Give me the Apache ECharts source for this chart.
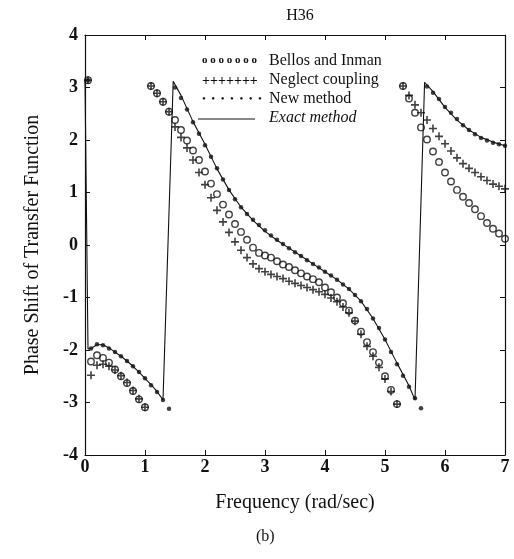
<!DOCTYPE html>
<html>
<head>
<meta charset="utf-8">
<script src="https://cdn.jsdelivr.net/npm/echarts@6/dist/echarts.min.js"></script>
<style>html,body{margin:0;padding:0;background:#fff;}#c{width:514px;height:559px;}</style>
</head>
<body>
<div id="c"></div>
<script>
// ---- data ----
const titleText = 'H36';
const xTicks = [0,1,2,3,4,5,6,7];
const yTicks = [-4,-3,-2,-1,0,1,2,3,4];
const legendNames = ['Bellos and Inman','Neglect coupling','New method','Exact method'];

// Exact method (continuous line, wraps drawn as near-vertical jumps)
const exactX = [0.0,0.05,0.1,0.2,0.3,0.4,0.5,0.6,0.7,0.8,0.9,1.0,1.1,1.2,1.3,1.47,1.6,1.8,2.0,2.2,2.4,2.6,2.8,3.0,3.2,3.4,3.6,3.8,4.0,4.2,4.4,4.6,4.8,5.0,5.2,5.4,5.5,5.66,5.8,6.0,6.2,6.4,6.6,6.8,7.0];
const exactY = [3.14,-1.98,-1.97,-1.90,-1.90,-1.96,-2.04,-2.12,-2.21,-2.31,-2.42,-2.54,-2.66,-2.79,-2.95,3.12,2.85,2.35,1.92,1.45,1.05,0.72,0.47,0.26,0.09,-0.06,-0.21,-0.36,-0.51,-0.66,-0.84,-1.07,-1.40,-1.80,-2.25,-2.68,-2.95,3.10,2.92,2.62,2.38,2.19,2.05,1.96,1.89];

// New method (dots)
const newX = [0.05,0.1,0.2,0.3,0.4,0.5,0.6,0.7,0.8,0.9,1.0,1.1,1.2,1.3,1.4,1.5,1.6,1.7,1.8,1.9,2.0,2.1,2.2,2.3,2.4,2.5,2.6,2.7,2.8,2.9,3.0,3.1,3.2,3.3,3.4,3.5,3.6,3.7,3.8,3.9,4.0,4.1,4.2,4.3,4.4,4.5,4.6,4.7,4.8,4.9,5.0,5.1,5.2,5.3,5.4,5.5,5.6,5.7,5.8,5.9,6.0,6.1,6.2,6.3,6.4,6.5,6.6,6.7,6.8,6.9,7.0];
const newY = [3.14,-1.97,-1.89,-1.91,-1.97,-2.04,-2.12,-2.21,-2.31,-2.42,-2.54,-2.67,-2.80,-2.95,-3.12,3.00,2.80,2.58,2.34,2.12,1.90,1.68,1.46,1.25,1.05,0.87,0.72,0.59,0.48,0.38,0.28,0.18,0.10,0.02,-0.06,-0.14,-0.21,-0.29,-0.36,-0.43,-0.51,-0.58,-0.66,-0.75,-0.84,-0.95,-1.07,-1.22,-1.40,-1.58,-1.80,-2.04,-2.27,-2.49,-2.70,-2.92,-3.11,3.02,2.90,2.78,2.63,2.52,2.40,2.28,2.19,2.11,2.04,1.99,1.95,1.92,1.89];

// Bellos and Inman (open circles)
const bellosX = [0.05,0.1,0.2,0.3,0.4,0.5,0.6,0.7,0.8,0.9,1.0,1.1,1.2,1.3,1.4,1.5,1.6,1.7,1.8,1.9,2.0,2.1,2.2,2.3,2.4,2.5,2.6,2.7,2.8,2.9,3.0,3.1,3.2,3.3,3.4,3.5,3.6,3.7,3.8,3.9,4.0,4.1,4.2,4.3,4.4,4.5,4.6,4.7,4.8,4.9,5.0,5.1,5.2,5.3,5.4,5.5,5.6,5.7,5.8,5.9,6.0,6.1,6.2,6.3,6.4,6.5,6.6,6.7,6.8,6.9,7.0];
const bellosY = [3.14,-2.22,-2.10,-2.15,-2.24,-2.37,-2.50,-2.63,-2.78,-2.94,-3.09,3.03,2.89,2.73,2.54,2.38,2.19,1.99,1.80,1.62,1.40,1.17,0.97,0.77,0.58,0.40,0.25,0.10,-0.05,-0.15,-0.20,-0.24,-0.31,-0.37,-0.42,-0.48,-0.54,-0.60,-0.65,-0.71,-0.81,-0.90,-1.00,-1.11,-1.25,-1.44,-1.65,-1.85,-2.04,-2.24,-2.50,-2.76,-3.03,3.03,2.79,2.52,2.24,2.01,1.78,1.58,1.38,1.21,1.05,0.92,0.80,0.68,0.55,0.42,0.31,0.22,0.12];

// Neglect coupling (plus signs)
const neglectX = [0.05,0.1,0.2,0.3,0.4,0.5,0.6,0.7,0.8,0.9,1.0,1.1,1.2,1.3,1.4,1.5,1.6,1.7,1.8,1.9,2.0,2.1,2.2,2.3,2.4,2.5,2.6,2.7,2.8,2.9,3.0,3.1,3.2,3.3,3.4,3.5,3.6,3.7,3.8,3.9,4.0,4.1,4.2,4.3,4.4,4.5,4.6,4.7,4.8,4.9,5.0,5.1,5.2,5.3,5.4,5.5,5.6,5.7,5.8,5.9,6.0,6.1,6.2,6.3,6.4,6.5,6.6,6.7,6.8,6.9,7.0];
const neglectY = [3.14,-2.48,-2.29,-2.27,-2.31,-2.38,-2.49,-2.62,-2.77,-2.93,-3.09,3.03,2.89,2.73,2.54,2.25,2.05,1.85,1.62,1.38,1.15,0.90,0.66,0.44,0.24,0.06,-0.10,-0.24,-0.36,-0.45,-0.51,-0.56,-0.60,-0.64,-0.69,-0.73,-0.77,-0.81,-0.85,-0.89,-0.94,-1.01,-1.08,-1.18,-1.29,-1.45,-1.70,-1.93,-2.12,-2.33,-2.55,-2.79,-3.03,3.03,2.85,2.67,2.52,2.38,2.22,2.07,1.93,1.79,1.66,1.55,1.46,1.38,1.30,1.23,1.16,1.12,1.07];

const xName = 'Frequency (rad/sec)';
const yName = 'Phase Shift of Transfer Function';
const captionText = '(b)';

// ---- chart ----
const zip = (xs, ys) => xs.map((x, i) => [x, ys[i]]);
const FONT = '"Liberation Serif", "DejaVu Serif", serif';
const INK = '#111';
const plusPath = 'path://M-0.8,-4H0.8V-0.8H4V0.8H0.8V4H-0.8V0.8H-4V-0.8H-0.8Z';

const chart = echarts.init(document.getElementById('c'), null, {renderer: 'canvas'});
const axisCommon = {
  min: 0, max: 7, interval: 1, type: 'value',
  axisLine: {show: true, onZero: false, lineStyle: {color: INK, width: 1.2}},
  axisTick: {show: true, inside: true, length: 5, lineStyle: {color: INK}},
  splitLine: {show: false}
};
chart.setOption({
  animation: false,
  backgroundColor: '#fff',
  title: {
    text: titleText, left: 295, top: 3, textAlign: 'center',
    textStyle: {fontFamily: FONT, fontSize: 16, fontWeight: 'normal', color: INK}
  },
  grid: {left: 85, right: 9, top: 35, bottom: 104, containLabel: false},
  xAxis: [
    Object.assign({}, axisCommon, {
      position: 'bottom',
      axisLabel: {color: INK, fontFamily: FONT, fontSize: 18, fontWeight: 'bold', margin: 3,
        formatter: v => xTicks.includes(v) ? String(v) : ''},
      name: xName, nameLocation: 'middle', nameGap: 38,
      nameTextStyle: {fontFamily: FONT, fontSize: 20, color: INK}
    }),
    Object.assign({}, axisCommon, {position: 'top', axisLabel: {show: false}})
  ],
  yAxis: [
    Object.assign({}, axisCommon, {
      min: -4, max: 4, position: 'left',
      axisLabel: {color: INK, fontFamily: FONT, fontSize: 18, fontWeight: 'bold', margin: 7,
        formatter: v => yTicks.includes(v) ? String(v) : ''},
      name: yName, nameLocation: 'middle', nameGap: 42, nameRotate: 90,
      nameTextStyle: {fontFamily: FONT, fontSize: 20, color: INK}
    }),
    Object.assign({}, axisCommon, {min: -4, max: 4, position: 'right', axisLabel: {show: false}})
  ],
  series: [
    {name: legendNames[3], type: 'line', data: zip(exactX, exactY), showSymbol: false, symbol: 'none',
     lineStyle: {color: INK, width: 1.1}, z: 2},
    {name: legendNames[0], type: 'scatter', data: zip(bellosX, bellosY), symbol: 'circle', symbolSize: 6.5,
     itemStyle: {color: 'rgba(255,255,255,0)', borderColor: INK, borderWidth: 1.4}, z: 3},
    {name: legendNames[1], type: 'scatter', data: zip(neglectX, neglectY), symbol: plusPath, symbolSize: 8,
     itemStyle: {color: INK}, z: 4},
    {name: legendNames[2], type: 'scatter', data: zip(newX, newY), symbol: 'circle', symbolSize: 4.5,
     itemStyle: {color: INK}, z: 5}
  ],
  graphic: [
    {type: 'text', left: 202, top: 55, style: {text: 'o o o o o o o', font: 'bold 11px ' + FONT, fill: INK}},
    {type: 'text', left: 269, top: 53, style: {text: legendNames[0], font: '16px ' + FONT, fill: INK}},
    {type: 'text', left: 202, top: 74, style: {text: '+++++++', font: 'bold 14px ' + FONT, fill: INK}},
    {type: 'text', left: 269, top: 72, style: {text: legendNames[1], font: '16px ' + FONT, fill: INK}},
    {type: 'text', left: 202, top: 94, style: {text: '•  •  •  •  •  •  •', font: '11px ' + FONT, fill: INK}},
    {type: 'text', left: 269, top: 91, style: {text: legendNames[2], font: '16px ' + FONT, fill: INK}},
    {type: 'line', shape: {x1: 198, y1: 119, x2: 255, y2: 119}, style: {stroke: INK, lineWidth: 1}},
    {type: 'text', left: 269, top: 110, style: {text: legendNames[3], font: 'italic 16px ' + FONT, fill: INK}},
    {type: 'text', left: 256, top: 529, style: {text: captionText, font: '16px ' + FONT, fill: INK}}
  ]
});
</script>
</body>
</html>
